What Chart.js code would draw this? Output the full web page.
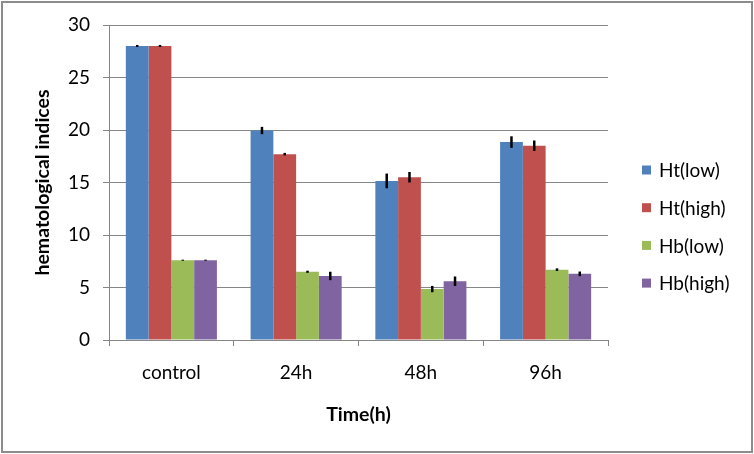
<!DOCTYPE html>
<html>
<head>
<meta charset="utf-8">
<script src="https://cdn.jsdelivr.net/npm/chart.js@4.4.1/dist/chart.umd.min.js"></script>
<style>
    html, body { margin: 0; padding: 0; background: #fff; }
    #wrap { width: 754px; height: 454px; }
</style>
</head>
<body>
<div id="wrap"><canvas id="chart" width="754" height="454"></canvas></div>
<script>
// Values.
const categories = ["control", "24h", "48h", "96h"];
const seriesNames = ["Ht(low)", "Ht(high)", "Hb(low)", "Hb(high)"];
const htLow = [28.0, 19.95, 15.15, 18.85];
const htHigh = [28.0, 17.7, 15.5, 18.5];
const hbLow = [7.6, 6.5, 4.85, 6.7];
const hbHigh = [7.6, 6.1, 5.6, 6.3];
// +/- error bar half-lengths
const htLowErr = [0.1, 0.35, 0.7, 0.55];
const htHighErr = [0.1, 0.12, 0.5, 0.5];
const hbLowErr = [0.05, 0.1, 0.3, 0.12];
const hbHighErr = [0.05, 0.4, 0.45, 0.22];
const yTicks = [0, 5, 10, 15, 20, 25, 30];

const colors = ["#4F81BD", "#C0504D", "#9BBB59", "#8064A2"];
const seriesValues = [htLow, htHigh, hbLow, hbHigh];
const seriesErrors = [htLowErr, htHighErr, hbLowErr, hbHighErr];

const FONT = "Lato, 'Open Sans', sans-serif";
const GRID = "#868686";

/** Vertical black error bars without caps, placed through the y scale. */
const errorBars = {
    id: "errorBars",
    afterDatasetsDraw(chart) {
        const { ctx, scales: { y } } = chart;
        ctx.save();
        ctx.strokeStyle = "#000";
        ctx.lineWidth = 2.5;
        chart.data.datasets.forEach((ds, i) => {
            const meta = chart.getDatasetMeta(i);
            meta.data.forEach((bar, j) => {
                const v = ds.data[j];
                const e = ds.errors[j];
                ctx.beginPath();
                ctx.moveTo(bar.x, y.getPixelForValue(v + e));
                ctx.lineTo(bar.x, y.getPixelForValue(v - e));
                ctx.stroke();
            });
        });
        ctx.restore();
    },
};

/** Legend on the right, Excel style, plus the grey frame round the chart. */
const sideLegend = {
    id: "sideLegend",
    afterDraw(chart) {
        const { ctx } = chart;
        ctx.save();
        ctx.font = "19px " + FONT;
        ctx.textBaseline = "middle";
        ctx.textAlign = "left";
        chart.data.datasets.forEach((ds, i) => {
            const cy = 170 + i * 37.7;
            ctx.fillStyle = ds.backgroundColor;
            ctx.fillRect(642, cy - 4.5, 9, 9);
            ctx.fillStyle = "#000";
            ctx.fillText(ds.label, 659, cy + 1);
        });
        ctx.strokeStyle = "#8c8c8c";
        ctx.lineWidth = 2;
        ctx.strokeRect(2, 2, 750, 450);
        ctx.restore();
    },
};

new Chart(document.getElementById("chart"), {
    type: "bar",
    data: {
        labels: categories,
        datasets: seriesNames.map((name, i) => ({
            label: name,
            data: seriesValues[i],
            errors: seriesErrors[i],
            backgroundColor: colors[i],
            borderWidth: 0,
            categoryPercentage: 0.73,
            barPercentage: 1.0,
        })),
    },
    options: {
        responsive: false,
        animation: false,
        devicePixelRatio: 1,
        layout: { padding: { left: 10, right: 146, top: 25, bottom: 10 } },
        plugins: {
            legend: { display: false },
            tooltip: { enabled: false },
        },
        scales: {
            x: {
                offset: true,
                grid: {
                    offset: true,
                    drawOnChartArea: false,
                    drawTicks: true,
                    tickLength: 6,
                    color: GRID,
                },
                border: { color: GRID },
                ticks: {
                    color: "#000",
                    font: { family: FONT, size: 19 },
                    padding: 15,
                    maxRotation: 0,
                },
                title: {
                    display: true,
                    text: "Time(h)",
                    color: "#000",
                    font: { family: FONT, size: 19.5, weight: "bold" },
                    padding: { top: 0, bottom: 18 },
                },
                afterFit(scale) {
                    scale.height = 104;
                },
            },
            y: {
                min: 0,
                max: 30,
                afterBuildTicks(scale) {
                    scale.ticks = yTicks.map((v) => ({ value: v }));
                },
                grid: {
                    color: GRID,
                    tickLength: 6,
                },
                border: { color: GRID },
                ticks: {
                    color: "#000",
                    font: { family: FONT, size: 19 },
                    padding: 13,
                },
                title: {
                    display: true,
                    text: "hematological indices",
                    color: "#000",
                    font: { family: FONT, size: 19.5, weight: "bold" },
                    padding: { top: 21, bottom: 0 },
                },
                afterFit(scale) {
                    scale.width = 99;
                },
            },
        },
    },
    plugins: [errorBars, sideLegend],
});
</script>
</body>
</html>
